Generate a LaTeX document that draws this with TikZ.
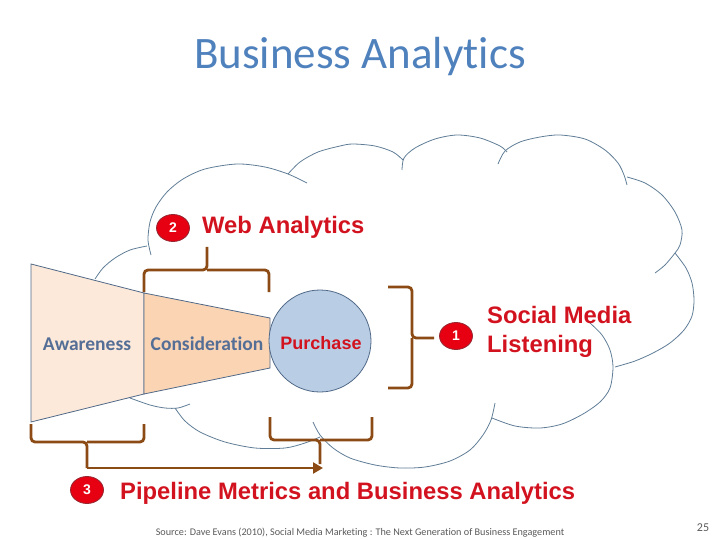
\documentclass[tikz,border=0pt]{standalone}
\usepackage{fontspec}
\setmainfont{Carlito}[Ligatures={NoCommon}]
\newfontfamily\arialf{Liberation Sans}
\usetikzlibrary{shapes.geometric,arrows.meta}
\definecolor{cloudc}{RGB}{95,125,150}
\definecolor{funnelc}{RGB}{80,105,135}
\definecolor{awarec}{RGB}{253,233,217}
\definecolor{considc}{RGB}{251,212,180}
\definecolor{purchc}{RGB}{185,205,229}
\definecolor{bracec}{RGB}{140,75,20}
\definecolor{redtxt}{RGB}{210,18,30}
\definecolor{badgefill}{RGB}{230,0,18}
\definecolor{badgeline}{RGB}{150,40,50}
\definecolor{stagec}{RGB}{84,110,150}
\definecolor{titlec}{RGB}{79,129,189}
\definecolor{greyc}{RGB}{90,90,90}
\tikzset{
  bump/.style={draw=cloudc, line width=0.8bp},
  funnelpart/.style={draw=funnelc, line width=0.8bp},
  bracepath/.style={draw=bracec, line width=2.8bp, rounded corners=4bp},
  badge/.style={ellipse, minimum width=33bp, minimum height=27bp, inner sep=0pt,
    fill=badgefill, draw=badgeline, line width=0.8bp, text=white,
    font=\arialf\bfseries\fontsize{14bp}{16bp}\selectfont},
  redlabel/.style={text=redtxt, inner sep=0pt, font=\arialf\bfseries\fontsize{23.8bp}{29bp}\selectfont},
  stage/.style={text=stagec, inner sep=0pt, font=\bfseries\fontsize{19.5bp}{22bp}\selectfont}
}
\begin{document}
\begin{tikzpicture}[x=1bp,y=-1bp]
\useasboundingbox (0,0) rectangle (720,540);
% title
\node[text=titlec, font=\fontsize{45bp}{50bp}\selectfont] (title) at (360,57) {Business Analytics};
% cloud
\draw[bump] plot[smooth] coordinates {(95,279) (103,268) (115,258) (130,250) (147,246)};
\draw[bump] plot[smooth] coordinates {(151,255) (148,240) (150,222) (156,207) (167,192) (183,179) (205,169) (237,164) (265,167) (288,174) (307,183)};
\draw[bump] plot[smooth] coordinates {(288,174) (300,162) (318,152) (340,146) (353,144) (375,146) (393,152) (403,160)};
\draw[bump] plot[smooth] coordinates {(402,170) (404,158) (415,148) (435,139) (457,135) (480,138) (500,146) (507,152)};
\draw[bump] plot[smooth] coordinates {(498,164) (505,151) (520,142) (540,137) (560,135) (585,139) (605,150) (618,163) (624,175) (627,185)};
\draw[bump] plot[smooth] coordinates {(627,177) (645,183) (662,195) (675,212) (682,230) (680,245) (675,253) (665,265) (655,273)};
\draw[bump] plot[smooth] coordinates {(675,253) (686,268) (692,283) (694,300) (692,316) (684,330) (670,343) (653,353) (635,361) (615,367)};
\draw[bump] plot[smooth] coordinates {(590,323) (602,335) (610,350) (613,367) (610,388) (600,402) (583,414) (562,424) (540,428) (515,426) (492,418)};
\draw[bump] plot[smooth] coordinates {(495,403) (491,420) (483,435) (470,450) (450,461) (425,467) (400,468) (375,465) (350,458) (333,448) (320,435) (313,422)};
\draw[bump] plot[smooth] coordinates {(175,408) (185,421) (200,432) (225,442) (255,448) (285,448) (305,443) (320,437)};
\draw[bump] plot[smooth] coordinates {(130,398) (150,405) (165,408) (178,408) (190,404)};
% funnel
\filldraw[funnelpart, fill=awarec] (31,264) -- (144,293) -- (144,394) -- (31,422) -- cycle;
\filldraw[funnelpart, fill=considc] (144,293) -- (270,318) -- (270,368) -- (144,394) -- cycle;
\node[circle, minimum size=102bp, inner sep=0pt, fill=purchc, draw=funnelc, line width=0.8bp] (purchase) at (320,341) {};
\node[text=redtxt, font=\arialf\bfseries\fontsize{18bp}{20bp}\selectfont] (purchtxt) at (321,343) {Purchase};
\node[stage] (aware) at (87,344) {Awareness};
\node[stage] (consid) at (207,344) {Consideration};
% braces
\coordinate (webtip) at (207,247);
\draw[bracepath] (144,292) |- (207,270) -- (webtip);
\draw[bracepath] (269,292) |- (207,270);
\coordinate (socialtip) at (434,338);
\draw[bracepath] (388,287) -| (412,338) -- (socialtip);
\draw[bracepath] (388,388) -| (412,338);
\coordinate (awaretip) at (87,468);
\draw[bracepath] (31,424) |- (87,442) -- (awaretip);
\draw[bracepath] (144,424) |- (87,442);
\coordinate (purchtip) at (320,464);
\draw[bracepath] (270,417) |- (320,440) -- (purchtip);
\draw[bracepath] (372,417) |- (320,440);
\coordinate (arrowend) at (323,468);
\draw[draw=bracec, line width=2.8bp, -{Triangle[length=10bp,width=11bp]}] (awaretip) -- (arrowend);
% badges and labels
\node[badge] (b2) at (173,228) {2};
\node[redlabel, anchor=base west] (web) at (202,234) {Web Analytics};
\node[badge] (b1) at (456,336) {1};
\node[redlabel, anchor=west, align=left] (social) at (487,332) {Social Media\\Listening};
\node[badge] (b3) at (87,490) {3};
\node[redlabel, anchor=base west] (pipe) at (120,499) {Pipeline Metrics and Business Analytics};
% footer
\node[text=greyc, font=\fontsize{10.2bp}{11bp}\selectfont] (source) at (360,533) {Source: Dave Evans (2010), Social Media Marketing : The Next Generation of Business Engagement};
\node[text=greyc, font=\fontsize{12bp}{14bp}\selectfont] (page) at (703,528) {25};
\end{tikzpicture}
\end{document}
